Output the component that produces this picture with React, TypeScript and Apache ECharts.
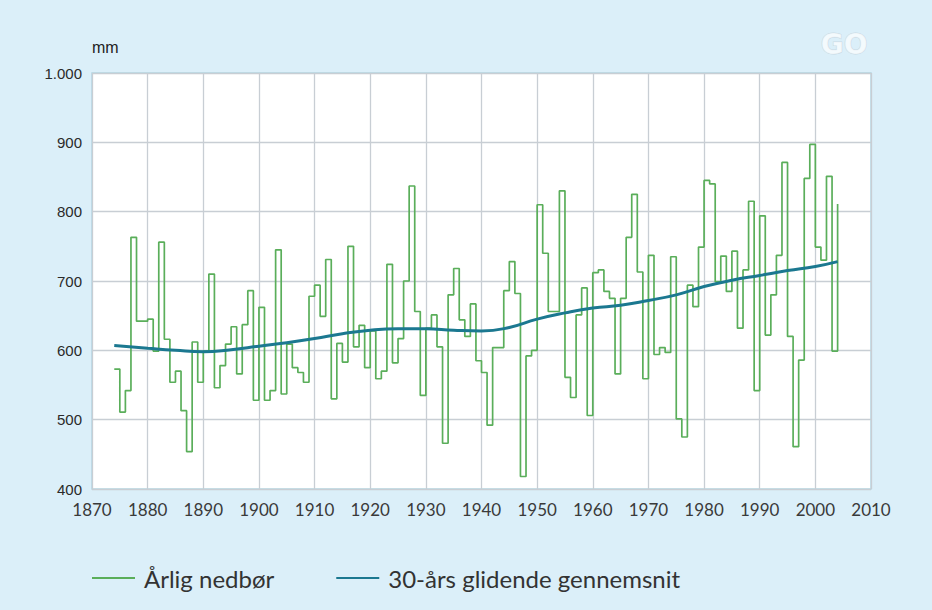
import React, { useEffect, useRef } from "react";
import * as echarts from "echarts";

// Annual precipitation (mm), one value per year starting 1874
const startYear = 1874;
const annualPrecip = [
  573, 511, 542, 763, 642, 642, 645, 599, 756, 616, // 1874-1883
  554, 570, 513, 454, 612, 554, 599, 710, 546, 578, // 1884-1893
  609, 634, 566, 637, 686, 528, 662, 528, 542, 745, // 1894-1903
  537, 609, 575, 568, 554, 678, 694, 649, 731, 530, // 1904-1913
  610, 583, 750, 605, 636, 575, 628, 559, 570, 724, // 1914-1923
  582, 617, 700, 837, 656, 535, 632, 651, 605, 466, // 1924-1933
  680, 718, 644, 620, 667, 585, 568, 492, 604, 604, // 1934-1943
  686, 728, 682, 418, 592, 600, 810, 740, 656, 656, // 1944-1953
  830, 561, 532, 651, 690, 506, 712, 716, 685, 675, // 1954-1963
  566, 675, 763, 825, 713, 559, 737, 594, 604, 597, // 1964-1973
  735, 501, 475, 694, 663, 749, 845, 840, 699, 736, // 1974-1983
  685, 743, 632, 716, 815, 542, 794, 622, 680, 737, // 1984-1993
  871, 620, 461, 586, 848, 897, 749, 730, 851, 599, // 1994-2003
  811, // 2004
];

// 30-year moving average
const avgYears = [1874, 1880, 1885, 1890, 1895, 1900, 1905, 1910, 1915, 1920, 1925, 1930, 1935, 1940, 1945, 1950, 1955, 1960, 1965, 1970, 1975, 1980, 1985, 1990, 1995, 2000, 2004];
const avgValues = [607, 603, 600, 598, 601, 606, 611, 617, 624, 629, 631, 631, 629, 628, 633, 645, 654, 661, 665, 672, 680, 692, 701, 708, 715, 721, 728];

const seriesNames = ["Årlig nedbør", "30-års glidende gennemsnit"];
const xMin = 1870;
const xMax = 2010;
const yMin = 400;
const yMax = 1000;

export default function App() {
  const ref = useRef<HTMLDivElement>(null);
  useEffect(() => {
    if (!ref.current) return;
    const chart = echarts.init(ref.current, undefined, { renderer: "svg" });
    const annualData = annualPrecip.map((v, i) => [startYear + i, v]);
    const avgData = avgYears.map((y, i) => [y, avgValues[i]]);
    chart.setOption({
      animation: false,
      backgroundColor: "#dbeff9",
      grid: {
        left: 92,
        right: 61,
        top: 73,
        bottom: 121,
        show: true,
        backgroundColor: "#ffffff",
        borderColor: "#b4d6e4",
        borderWidth: 1.5,
      },
      legend: {
        data: seriesNames,
        left: 87,
        top: 561,
        icon: "rect",
        itemWidth: 43,
        itemHeight: 2,
        itemGap: 62,
        textStyle: {
          fontFamily: "Lato",
          fontSize: 24,
          color: "#333333",
          padding: [0, 0, 0, 4],
        },
      },
      xAxis: {
        type: "value",
        min: xMin,
        max: xMax,
        interval: 10,
        axisLine: { show: false },
        axisTick: { show: false },
        axisLabel: {
          fontFamily: "Lato",
          fontSize: 17,
          color: "#3a3a3a",
          margin: 12,
          formatter: (v: number) => String(v),
        },
        splitLine: { show: true, lineStyle: { color: "#c8ced4", width: 1.3 } },
      },
      yAxis: {
        type: "value",
        min: yMin,
        max: yMax,
        interval: 100,
        name: "mm",
        nameLocation: "end",
        nameGap: 18,
        nameTextStyle: {
          fontFamily: "Liberation Sans",
          fontSize: 16,
          color: "#222222",
          align: "left",
        },
        axisLine: { show: false },
        axisTick: { show: false },
        axisLabel: {
          fontFamily: "Liberation Sans",
          fontSize: 15,
          color: "#2a2a2a",
          margin: 10,
          formatter: (v: number) => (v >= 1000 ? "1." + String(v).slice(1) : String(v)),
        },
        splitLine: { show: true, lineStyle: { color: "#c8ced4", width: 1.3 } },
      },
      series: [
        {
          name: seriesNames[0],
          type: "line",
          step: "end",
          data: annualData,
          showSymbol: false,
          symbol: "none",
          itemStyle: { color: "#5aae5a" },
          lineStyle: { color: "#5aae5a", width: 1.7 },
          z: 2,
        },
        {
          name: seriesNames[1],
          type: "line",
          smooth: true,
          data: avgData,
          showSymbol: false,
          symbol: "none",
          itemStyle: { color: "#1b7890" },
          lineStyle: { color: "#1b7890", width: 3 },
          z: 3,
        },
      ],
      graphic: [
        {
          type: "text",
          right: 64,
          top: 30,
          style: {
            text: "GO",
            fontFamily: "DejaVu Sans",
            fontWeight: "bold",
            fontSize: 28,
            fill: "rgba(255,255,255,0.7)",
            stroke: "rgba(180,195,205,0.5)",
            lineWidth: 1,
          },
        },
      ],
    });
    return () => chart.dispose();
  }, []);
  return (
    <div
      ref={ref}
      style={{ position: "fixed", left: 0, top: 0, width: 932, height: 610 }}
    />
  );
}
